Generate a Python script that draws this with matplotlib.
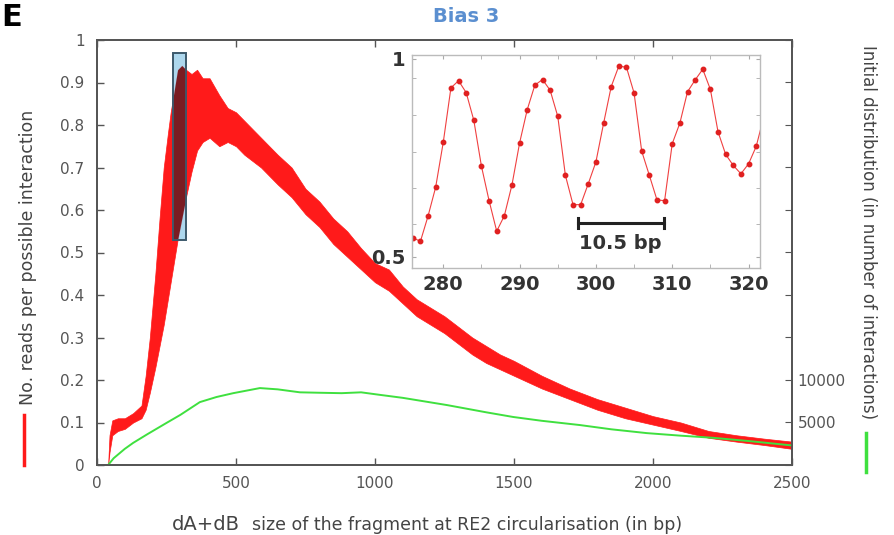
import matplotlib
matplotlib.use('Agg')
import matplotlib.pyplot as plt
from matplotlib.patches import Rectangle
from matplotlib.lines import Line2D
import numpy as np

plt.rcParams['font.family'] = ['DejaVu Sans']

# main red curve (reads per possible interaction): noisy band, lower / upper envelope
red_x = [40, 45, 55, 75, 100, 130, 160, 175, 190, 210, 225, 240, 255, 265, 275, 290,
         305, 320, 340, 360, 380, 405, 440, 470, 500, 530, 590, 650, 700, 750, 800,
         850, 900, 950, 1000, 1050, 1100, 1150, 1200, 1250, 1300, 1350, 1400, 1450,
         1500, 1600, 1700, 1800, 1900, 2000, 2100, 2200, 2300, 2400, 2500]
red_lo = [0.0, 0.03, 0.07, 0.08, 0.085, 0.10, 0.11, 0.13, 0.17, 0.23, 0.28, 0.33, 0.39,
          0.43, 0.47, 0.53, 0.58, 0.63, 0.69, 0.74, 0.76, 0.77, 0.75, 0.76, 0.75, 0.73,
          0.70, 0.66, 0.63, 0.59, 0.56, 0.52, 0.49, 0.46, 0.43, 0.41, 0.38, 0.35, 0.33,
          0.31, 0.285, 0.26, 0.24, 0.225, 0.21, 0.18, 0.155, 0.13, 0.11, 0.095, 0.08,
          0.064, 0.055, 0.047, 0.038]
red_hi = [0.0, 0.07, 0.105, 0.11, 0.11, 0.122, 0.14, 0.21, 0.30, 0.45, 0.58, 0.70, 0.78,
          0.83, 0.87, 0.93, 0.94, 0.93, 0.92, 0.93, 0.91, 0.91, 0.87, 0.84, 0.83, 0.81,
          0.77, 0.73, 0.70, 0.65, 0.62, 0.58, 0.55, 0.51, 0.475, 0.46, 0.42, 0.39, 0.37,
          0.35, 0.325, 0.30, 0.28, 0.26, 0.245, 0.21, 0.18, 0.155, 0.135, 0.115, 0.10,
          0.08, 0.07, 0.062, 0.055]

# green curve: initial distribution (number of interactions, right axis)
green_x = [40, 60, 100, 130, 180, 250, 300, 370, 430, 490, 586, 650, 730, 800, 880, 950,
           1018, 1100, 1259, 1400, 1497, 1600, 1737, 1850, 1978, 2100, 2216, 2350, 2500]
green_y = [0, 800, 1900, 2600, 3600, 4950, 5900, 7400, 8000, 8450, 9050, 8900, 8550, 8500,
           8450, 8550, 8250, 7900, 7050, 6200, 5650, 5200, 4700, 4200, 3750, 3450, 3200,
           2800, 2300]

# inset: zoom on 276-322 bp
ins_x = list(range(276, 323))
ins_y = [0.549, 0.539, 0.603, 0.676, 0.790, 0.927, 0.945, 0.915, 0.845, 0.729, 0.642,
         0.565, 0.604, 0.682, 0.788, 0.872, 0.934, 0.948, 0.921, 0.855, 0.706, 0.632,
         0.632, 0.685, 0.740, 0.837, 0.930, 0.982, 0.979, 0.914, 0.767, 0.706, 0.644,
         0.642, 0.786, 0.838, 0.917, 0.947, 0.974, 0.923, 0.816, 0.759, 0.731, 0.710,
         0.735, 0.779, 0.854]

W, H = 895, 535
GREY = '#555555'
RED = '#ff1a1a'
GREEN = '#3fe03f'

fig = plt.figure(figsize=(W / 100, H / 100), dpi=100)
ax = fig.add_axes([97 / W, 1 - 465 / H, 695 / W, 425 / H])
ax.fill_between(red_x, red_lo, red_hi, color=RED, lw=0.5, edgecolor=RED)
ax.set_xlim(0, 2500)
ax.set_ylim(0, 1)
ax.set_xticks(range(0, 2501, 500))
yt = np.round(np.arange(0, 1.01, 0.1), 1)
ax.set_yticks(yt)
ax.set_yticklabels(['0' if v == 0 else ('1' if v == 1 else f'{v:g}') for v in yt])
ax.tick_params(direction='in', length=5, top=True, right=False, labelsize=11,
               colors=GREY, width=1)
ax.tick_params(axis='x', pad=8)
ax.tick_params(axis='y', pad=9)

ax2 = ax.twinx()
ax2.plot(green_x, green_y, color=GREEN, lw=1.4)
ax2.set_ylim(0, 50000)
ax2.set_yticks(range(0, 50001, 5000))
ax2.set_yticklabels(['5000' if v == 5000 else ('10000' if v == 10000 else '')
                     for v in range(0, 50001, 5000)])
ax2.tick_params(direction='in', length=5, labelsize=11, colors=GREY, pad=4)
for a in (ax, ax2):
    for s in a.spines.values():
        s.set_color(GREY)
        s.set_linewidth(1.3)

# highlighted region: light blue box, red seen through it looks dark
box = Rectangle((275, 0.53), 46.5, 0.44, transform=ax.transData,
                facecolor='#9fd0ea', alpha=0.85, edgecolor='#3d5a6c', lw=1.3)
ax2.add_patch(box)
dark = ax2.fill_between(red_x, red_lo, red_hi, color='#7a1c22', lw=0,
                        transform=ax.transData)
dark.set_clip_path(Rectangle((275, 0.53), 46.5, 0.44, transform=ax.transData))
ax2.add_patch(Rectangle((275, 0.53), 46.5, 0.44, transform=ax.transData,
                        facecolor='none', edgecolor='#3d5a6c', lw=1.3))

# inset
axi = fig.add_axes([412 / W, 1 - 268 / H, 348 / W, 213 / H])
axi.plot(ins_x, ins_y, color='#f04040', lw=0.8, marker='o', ms=3.2, mfc='#e02020',
         mec='#e02020')
axi.set_xlim(275.9, 321.5)
axi.set_ylim(0.472, 1.01)
axi.set_xticks([280, 290, 300, 310, 320])
axi.set_xticks([285, 295, 305, 315], minor=True)
axi.set_yticks([0.5, 1.0])
axi.set_yticklabels(['0.5', '1'])
axi.set_yticks([0.584, 0.675, 0.764, 0.858, 0.952], minor=True)
axi.tick_params(which='both', direction='in', length=3, top=True, right=True,
                colors='#aaaaaa', labelcolor='#333333', labelsize=14, pad=5)
for lab in axi.get_xticklabels() + axi.get_yticklabels():
    lab.set_fontweight('bold')
for s in axi.spines.values():
    s.set_color('#bbbbbb')
    s.set_linewidth(1)
axi.plot([297.6, 308.9], [0.585, 0.585], color='#222222', lw=2.2)
axi.plot([297.6, 297.6], [0.572, 0.598], color='#222222', lw=2.2)
axi.plot([308.9, 308.9], [0.572, 0.598], color='#222222', lw=2.2)
axi.text(303.2, 0.533, '10.5 bp', ha='center', va='center', fontsize=14,
         fontweight='bold', color='#333333')

# labels
fig.text(466 / W, 1 - 17 / H, 'Bias 3', ha='center', va='center', fontsize=14,
         fontweight='bold', color='#5b8fd0')
fig.text(28 / W, 1 - 257 / H, 'No. reads per possible interaction', rotation=90,
         ha='center', va='center', fontsize=12.5, color='#444444')
fig.text(868 / W, 1 - 232 / H, 'Initial distribution (in number of interactions)',
         rotation=-90, ha='center', va='center', fontsize=12, color='#444444')
fig.text(172 / W, 1 - 525 / H, 'dA+dB', ha='left', va='center', fontsize=14,
         color='#444444')
fig.text(252 / W, 1 - 525 / H, 'size of the fragment at RE2 circularisation (in bp)',
         ha='left', va='center', fontsize=12.5, color='#444444')
fig.text(1 / W, 1 - 17 / H, 'E', ha='left', va='center', fontsize=22,
         fontweight='bold', color='black')

fig.add_artist(Line2D([24 / W, 24 / W], [1 - 415 / H, 1 - 465 / H], color=RED, lw=2.5,
                      transform=fig.transFigure))
fig.add_artist(Line2D([866 / W, 866 / W], [1 - 433 / H, 1 - 472 / H], color=GREEN, lw=2.5,
                      transform=fig.transFigure))

fig.savefig('out.png', dpi=100)
